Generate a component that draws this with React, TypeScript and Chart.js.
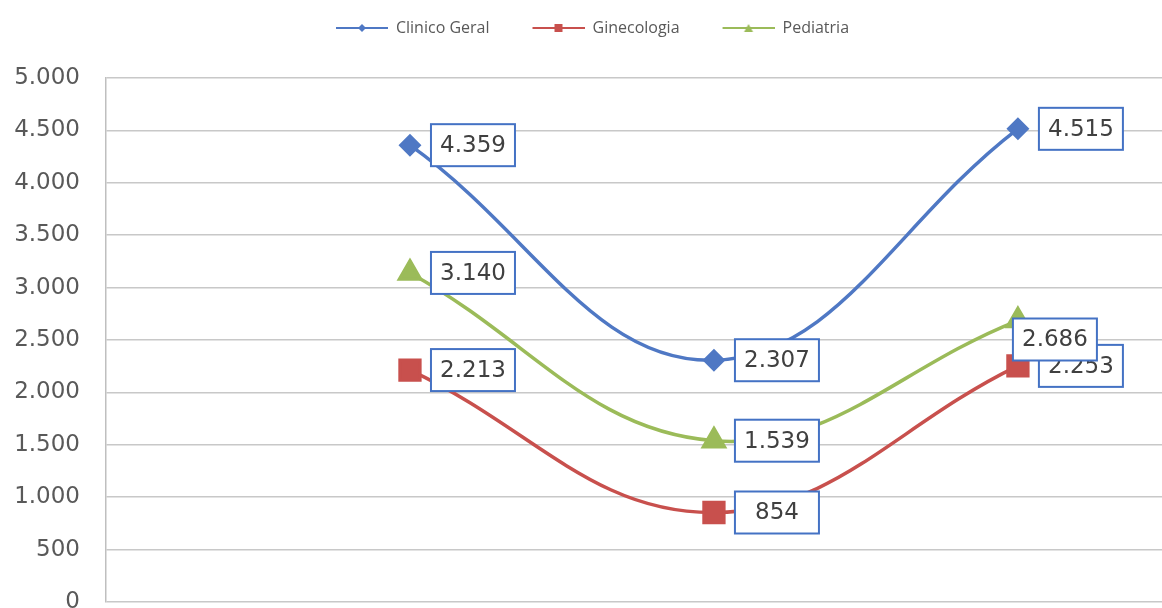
import React, { useEffect, useRef } from "react";
import { Chart, registerables } from "chart.js";

Chart.register(...registerables);

const positions = [1, 2, 3];
const clinicoGeral = [4359, 2307, 4515];
const ginecologia = [2213, 854, 2253];
const pediatria = [3140, 1539, 2686];
const seriesNames = ["Clinico Geral", "Ginecologia", "Pediatria"];
const yTicks = [0, 500, 1000, 1500, 2000, 2500, 3000, 3500, 4000, 4500, 5000];

const BLUE = "#4F78C4";
const RED = "#C8504D";
const GREEN = "#9BBB59";
const FONT = "'DejaVu Sans', sans-serif";
const LEGEND_FONT = "'Open Sans', sans-serif";

const fmt = (v: number) => {
  const s = Math.round(v).toString();
  return s.replace(/\B(?=(\d{3})+(?!\d))/g, ".");
};

const ICON_W = 75;
const ICON_LEFT_GAP = 23;

function legendIcon(color: string, style: string): HTMLCanvasElement {
  const c = document.createElement("canvas");
  c.width = ICON_W;
  c.height = 14;
  const ctx = c.getContext("2d")!;
  ctx.strokeStyle = color;
  ctx.lineWidth = 2;
  ctx.beginPath();
  ctx.moveTo(ICON_LEFT_GAP, 7);
  ctx.lineTo(ICON_W, 7);
  ctx.stroke();
  ctx.fillStyle = color;
  const cx = ICON_LEFT_GAP + (ICON_W - ICON_LEFT_GAP) / 2;
  ctx.beginPath();
  if (style === "diamond") {
    ctx.moveTo(cx, 3);
    ctx.lineTo(cx + 4, 7);
    ctx.lineTo(cx, 11);
    ctx.lineTo(cx - 4, 7);
  } else if (style === "square") {
    ctx.rect(cx - 4, 3, 8, 8);
  } else {
    ctx.moveTo(cx, 3);
    ctx.lineTo(cx + 4.5, 11);
    ctx.lineTo(cx - 4.5, 11);
  }
  ctx.closePath();
  ctx.fill();
  return c;
}

const labelBoxPlugin = {
  id: "labelBoxes",
  afterDatasetsDraw(chart: any, _args: any, opts: any) {
    const ctx = chart.ctx;
    const offsets = opts.offsets || {};
    ctx.save();
    ctx.font = `23px ${FONT}`;
    ctx.textBaseline = "middle";
    ctx.textAlign = "center";
    chart.data.datasets.forEach((ds: any, di: number) => {
      const meta = chart.getDatasetMeta(di);
      meta.data.forEach((pt: any, i: number) => {
        const raw = ds.data[i];
        const v = typeof raw === "object" ? raw.y : raw;
        const text = fmt(v);
        const w = 84;
        const h = 42;
        const off = offsets[`${di}-${i}`] || { dx: 0, dy: 0 };
        const left = pt.x + 21 + off.dx;
        const top = pt.y - h / 2 + off.dy;
        ctx.fillStyle = "#ffffff";
        ctx.fillRect(left, top, w, h);
        ctx.strokeStyle = "#4472C4";
        ctx.lineWidth = 2;
        ctx.strokeRect(left, top, w, h);
        ctx.fillStyle = "#404040";
        ctx.fillText(text, left + w / 2, top + h / 2 + 1);
      });
    });
    ctx.restore();
  },
};

export default function App() {
  const ref = useRef<HTMLCanvasElement | null>(null);

  useEffect(() => {
    if (!ref.current) return;
    const mk = (vals: number[]) => positions.map((x, i) => ({ x, y: vals[i] }));
    const chart = new Chart(ref.current, {
      type: "line",
      data: {
        datasets: [
          {
            label: seriesNames[0],
            data: mk(clinicoGeral),
            borderColor: BLUE,
            backgroundColor: BLUE,
            borderWidth: 3.5,
            pointStyle: "rectRot",
            pointRadius: 9,
            tension: 0.4,
          },
          {
            label: seriesNames[1],
            data: mk(ginecologia),
            borderColor: RED,
            backgroundColor: RED,
            borderWidth: 3.5,
            pointStyle: "rect",
            pointRadius: 14,
            tension: 0.4,
          },
          {
            label: seriesNames[2],
            data: mk(pediatria),
            borderColor: GREEN,
            backgroundColor: GREEN,
            borderWidth: 3.5,
            pointStyle: "triangle",
            pointRadius: 12,
            tension: 0.4,
          },
        ],
      },
      options: {
        animation: false,
        responsive: false,
        maintainAspectRatio: false,
        layout: { autoPadding: false, padding: { left: 0, right: 0, top: 0, bottom: 6 } },
        scales: {
          x: {
            type: "linear",
            min: 0,
            max: 3.474,
            display: false,
            ticks: { display: false },
            grid: { display: false, drawTicks: false },
            border: { display: false },
          },
          y: {
            min: 0,
            max: 5000,
            afterBuildTicks: (axis: any) => {
              axis.ticks = yTicks.map((v) => ({ value: v }));
            },
            afterFit: (axis: any) => {
              axis.width = 106;
              axis.paddingTop = 0;
              axis.paddingBottom = 0;
            },
            ticks: {
              callback: (v: any) => fmt(Number(v)),
              font: { size: 23, family: FONT },
              color: "#595959",
              padding: 26,
            },
            grid: { color: "#C8C8C8", lineWidth: 1.5, drawTicks: false },
            border: { color: "#BFBFBF", width: 1.5 },
          },
        },
        plugins: {
          legend: {
            position: "top",
            labels: {
              usePointStyle: true,
              pointStyleWidth: ICON_W,
              padding: 20,
              font: { size: 16, family: LEGEND_FONT },
              color: "#595959",
              generateLabels: (ch: any) =>
                ch.data.datasets.map((ds: any, i: number) => ({
                  text: ds.label,
                  pointStyle: legendIcon(ds.borderColor, ["diamond", "square", "triangle"][i]),
                  fillStyle: ds.borderColor,
                  strokeStyle: ds.borderColor,
                  fontColor: "#595959",
                  lineWidth: 0,
                  hidden: false,
                  datasetIndex: i,
                })),
            },
          },
          subtitle: {
            display: true,
            text: " ",
            position: "top",
            weight: 500,
            font: { size: 10 },
            padding: { top: 0, bottom: 20 },
          },
          tooltip: { enabled: false },
          labelBoxes: { offsets: { "2-2": { dx: -26, dy: 19 } } },
        } as any,
      },
      plugins: [labelBoxPlugin],
    });
    return () => chart.destroy();
  }, []);

  return (
    <div style={{ position: "fixed", left: 0, top: 0, width: 1162, height: 608, background: "#fff" }}>
      <canvas ref={ref} width={1162} height={608} />
    </div>
  );
}
